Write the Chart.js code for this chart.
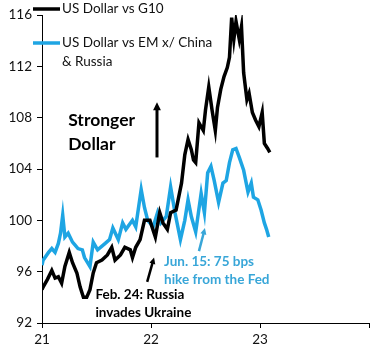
<!DOCTYPE html>
<html>
<head>
<meta charset="utf-8">
<script src="https://cdn.jsdelivr.net/npm/chart.js"></script>
<style>
  body { margin: 0; background: #fff; }
  #wrap { width: 384px; height: 360px; }
</style>
</head>
<body>
<div id="wrap"><canvas id="chart" width="384" height="360"></canvas></div>
<script>
// x values are decimal years (21 = Jan 2021)
const g10Dates = [21.00, 21.01, 21.05, 21.09, 21.12, 21.15, 21.18, 21.21, 21.25, 21.28, 21.32, 21.35, 21.38, 21.41,
  21.44, 21.47, 21.50, 21.55, 21.60, 21.64, 21.67, 21.72, 21.76, 21.81, 21.83, 21.86, 21.90, 21.94, 21.99,
  22.04, 22.08, 22.11, 22.15, 22.18, 22.23, 22.28, 22.31, 22.34, 22.37, 22.39, 22.41, 22.44, 22.48, 22.50,
  22.53, 22.56, 22.59, 22.61, 22.64, 22.67, 22.70, 22.72, 22.74, 22.76, 22.78, 22.81, 22.83, 22.85, 22.88,
  22.90, 22.93, 22.96, 22.99, 23.02, 23.04, 23.07, 23.09];
const g10Values = [94.6, 94.8, 95.4, 96.1, 95.5, 95.6, 95.1, 96.4, 97.5, 96.7, 95.9, 94.8, 94.0, 94.0,
  94.6, 95.9, 96.7, 96.9, 97.3, 97.9, 96.9, 97.3, 97.9, 97.7, 97.1, 97.9, 98.5, 100.0, 100.0,
  98.7, 100.6, 99.8, 99.3, 100.6, 100.8, 102.9, 105.1, 106.3, 105.5, 104.7, 104.5, 107.6, 107.0, 108.6,
  110.4, 108.6, 107.0, 108.8, 110.2, 111.2, 111.9, 112.7, 115.8, 114.1, 115.5, 114.1, 115.1, 111.5, 109.4,
  109.9, 108.4, 107.8, 107.3, 108.4, 106.0, 105.6, 105.3];

const emDates = [21.00, 21.01, 21.06, 21.09, 21.12, 21.15, 21.17, 21.19, 21.21, 21.24, 21.28, 21.30, 21.33, 21.37,
  21.39, 21.44, 21.47, 21.51, 21.58, 21.62, 21.65, 21.70, 21.74, 21.77, 21.83, 21.86, 21.91, 21.94, 21.97,
  22.02, 22.06, 22.09, 22.14, 22.18, 22.22, 22.27, 22.31, 22.34, 22.37, 22.41, 22.46, 22.49, 22.52, 22.55,
  22.58, 22.62, 22.66, 22.69, 22.72, 22.75, 22.78, 22.81, 22.85, 22.89, 22.92, 22.94, 22.98, 23.01, 23.04,
  23.06, 23.08];
const emValues = [96.5, 96.9, 97.5, 97.8, 97.5, 98.2, 99.0, 100.4, 98.7, 99.0, 98.3, 98.1, 97.8, 97.7,
  97.1, 96.4, 98.3, 97.7, 98.2, 98.5, 99.4, 98.5, 99.8, 99.3, 100.0, 99.5, 102.4, 101.0, 100.0,
  99.5, 100.6, 99.8, 100.3, 102.6, 100.6, 98.5, 100.0, 101.6, 100.3, 99.1, 102.1, 100.6, 103.7, 104.2,
  103.1, 101.4, 102.9, 103.1, 104.5, 105.5, 105.6, 104.9, 103.9, 102.2, 102.9, 101.8, 101.6, 100.8, 99.8,
  99.3, 98.7];

const yTicks = [92, 96, 100, 104, 108, 112, 116];
const xTickLabels = { 21: '21', 22: '22', 23: '23', 24: '' };

const seriesNames = ['US Dollar vs G10', 'US Dollar vs EM x/ China', '& Russia'];
const BLACK = '#000000';
const BLUE = '#1ea5e3';
const BLUE_TEXT = '#38a6d8';
const FONT = 'Lato, "Open Sans", sans-serif';

const toPoints = (xs, ys) => xs.map((x, i) => ({ x: x, y: ys[i] }));

// legend + annotations drawn after the chart, placed through the scales
const overlay = {
  id: 'overlay',
  afterDraw(chart) {
    const c = chart.ctx;
    const xs = chart.scales.x, ys = chart.scales.y;
    const px = v => xs.getPixelForValue(v);
    const py = v => ys.getPixelForValue(v);

    // legend
    c.save();
    c.lineWidth = 3.5;
    c.strokeStyle = BLACK;
    c.beginPath(); c.moveTo(33, 9); c.lineTo(60, 9); c.stroke();
    c.strokeStyle = BLUE;
    c.beginPath(); c.moveTo(33, 43); c.lineTo(60, 43); c.stroke();
    c.fillStyle = '#111';
    c.font = '13.5px ' + FONT;
    c.textBaseline = 'middle';
    c.fillText(seriesNames[0], 62, 9);
    c.fillText(seriesNames[1], 62, 43);
    c.fillText(seriesNames[2], 62, 62);

    // text notes
    c.fillStyle = '#000';
    c.font = 'bold 17.5px ' + FONT;
    c.fillText('Stronger', px(21.24), py(107.8));
    c.fillText('Dollar', px(21.24), py(105.9));

    c.font = 'bold 13.5px ' + FONT;
    c.fillText('Feb. 24: Russia', px(21.49), py(94.2));
    c.fillText('invades Ukraine', px(21.49), py(92.8));
    c.fillStyle = BLUE_TEXT;
    c.fillText('Jun. 15: 75 bps', px(22.12), py(96.75));
    c.fillText('hike from the Fed', px(22.12), py(95.35));

    // arrows
    const arrow = (x0, y0, x1, y1, col, w, head) => {
      const a = Math.atan2(y1 - y0, x1 - x0);
      c.strokeStyle = col; c.fillStyle = col; c.lineWidth = w;
      c.beginPath(); c.moveTo(x0, y0);
      c.lineTo(x1 - Math.cos(a) * head * 0.8, y1 - Math.sin(a) * head * 0.8); c.stroke();
      c.beginPath();
      c.moveTo(x1, y1);
      c.lineTo(x1 - head * Math.cos(a - 0.45), y1 - head * Math.sin(a - 0.45));
      c.lineTo(x1 - head * Math.cos(a + 0.45), y1 - head * Math.sin(a + 0.45));
      c.closePath(); c.fill();
    };
    arrow(px(22.055), py(104.9), px(22.055), py(109.2), BLACK, 3, 9);
    arrow(px(21.965), py(95.2), px(22.028), py(97.1), BLACK, 2.5, 7);
    arrow(px(22.44), py(97.6), px(22.495), py(99.4), BLUE_TEXT, 2.5, 7);
    c.restore();
  }
};

new Chart(document.getElementById('chart'), {
  type: 'line',
  data: {
    datasets: [
      { label: seriesNames[0], data: toPoints(g10Dates, g10Values), borderColor: BLACK, borderWidth: 3.5, pointRadius: 0, tension: 0 },
      { label: seriesNames[1], data: toPoints(emDates, emValues), borderColor: BLUE, borderWidth: 3.5, pointRadius: 0, tension: 0 }
    ]
  },
  options: {
    responsive: false,
    animation: false,
    layout: { padding: { top: 15, right: 15, left: 0, bottom: 0 } },
    plugins: { legend: { display: false }, tooltip: { enabled: false } },
    scales: {
      x: {
        type: 'linear', min: 21, max: 24,
        afterBuildTicks: s => { s.ticks = [21, 22, 23, 24].map(v => ({ value: v })); },
        afterFit: s => { s.height = 37; },
        border: { display: true, color: BLACK, width: 1 },
        grid: { display: true, drawOnChartArea: false, drawTicks: true, tickLength: 5, color: BLACK },
        ticks: { color: '#111', font: { family: FONT, size: 13.5 }, padding: 4, maxRotation: 0,
          callback: v => xTickLabels[v] }
      },
      y: {
        min: 92, max: 116,
        afterBuildTicks: s => { s.ticks = yTicks.map(v => ({ value: v })); },
        afterFit: s => { s.width = 42; },
        border: { display: true, color: BLACK, width: 1 },
        grid: { display: true, drawOnChartArea: false, drawTicks: true, tickLength: 5, color: BLACK },
        ticks: { color: '#111', font: { family: FONT, size: 13.5 }, padding: 5 }
      }
    }
  },
  plugins: [overlay]
});
</script>
</body>
</html>
